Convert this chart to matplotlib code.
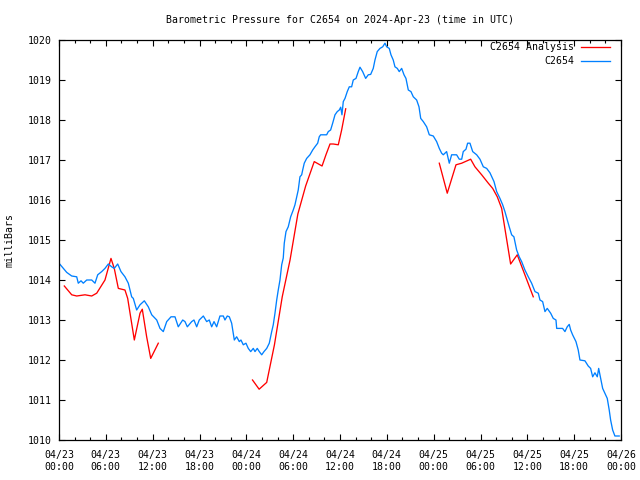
import matplotlib
matplotlib.use("Agg")
import matplotlib.pyplot as plt
from matplotlib.ticker import MultipleLocator

# ---- data (hours since 2024-04-23 00:00 UTC, pressure in millibars) ----
obs_hours = [0.00, 0.55, 0.99, 1.63, 2.27, 2.47, 2.82, 3.11, 3.55, 4.19, 4.61, 4.96,
             5.47, 5.89, 6.32, 6.75, 7.08, 7.52, 7.94, 8.45, 8.88, 9.31, 9.52, 9.95,
             10.38, 10.93, 11.44, 11.88, 12.52, 12.94, 13.36, 13.80, 14.35, 14.86,
             15.28, 15.85, 16.14, 16.44, 17.00, 17.29, 17.64, 17.97, 18.49, 18.92,
             19.25, 19.56, 19.86, 20.20, 20.62, 21.05, 21.26, 21.56, 21.82, 22.12,
             22.46, 22.76, 23.10, 23.31, 23.61, 23.95, 24.25, 24.56, 24.89, 25.11,
             25.40, 25.66, 25.97, 26.26, 26.61, 26.94, 27.25, 27.45, 27.67, 27.89,
             28.09, 28.31, 28.53, 28.73, 28.86, 29.08, 29.37, 29.68, 30.01, 30.23,
             30.45, 30.65, 30.87, 31.09, 31.22, 31.42, 31.73, 32.15, 32.50, 32.79,
             33.14, 33.34, 33.52, 34.29, 34.50, 34.80, 35.06, 35.36, 35.65, 35.91,
             36.09, 36.25, 36.42, 36.64, 36.93, 37.19, 37.49, 37.70, 38.05, 38.34,
             38.56, 38.90, 39.29, 39.62, 39.93, 40.26, 40.48, 40.77, 41.12, 41.47,
             41.76, 41.98, 42.31, 42.53, 42.82, 43.04, 43.34, 43.59, 43.90, 44.20,
             44.45, 44.75, 45.09, 45.39, 45.82, 46.12, 46.34, 46.67, 47.10, 47.44,
             47.95, 48.38, 48.72, 49.02, 49.23, 49.66, 50.00, 50.30, 50.94, 51.28,
             51.59, 51.79, 52.14, 52.35, 52.65, 53.00, 53.51, 53.93, 54.36, 54.79,
             55.21, 55.73, 56.07, 56.49, 56.84, 57.13, 57.43, 57.68, 57.99, 58.28,
             58.63, 58.96, 59.27, 59.69, 60.12, 60.55, 60.98, 61.40, 61.62, 61.96,
             62.26, 62.55, 62.99, 63.32, 63.67, 63.76, 64.52, 64.82, 65.11, 65.37,
             65.55, 65.80, 66.23, 66.52, 66.74, 67.38, 67.80, 68.11, 68.37, 68.66,
             68.96, 69.14, 69.39, 69.65, 69.94, 70.24, 70.49, 70.67, 70.93, 71.22,
             71.77]
obs_mb = [1014.42, 1014.29, 1014.19, 1014.10, 1014.08, 1013.92, 1013.98, 1013.92, 1014.00,
          1014.00, 1013.92, 1014.13, 1014.21, 1014.29, 1014.40, 1014.33, 1014.29, 1014.40,
          1014.21, 1014.08, 1013.92, 1013.58, 1013.54, 1013.25, 1013.38, 1013.48, 1013.33,
          1013.13, 1013.00, 1012.79, 1012.71, 1012.96, 1013.08, 1013.08,
          1012.83, 1013.00, 1012.96, 1012.83, 1012.96, 1013.00, 1012.83, 1013.00, 1013.10,
          1012.96, 1013.00, 1012.83, 1012.96, 1012.83, 1013.10, 1013.10, 1013.00, 1013.10,
          1013.08, 1012.92, 1012.50, 1012.58, 1012.46, 1012.50, 1012.38, 1012.42, 1012.29,
          1012.21, 1012.29, 1012.21, 1012.29, 1012.21, 1012.13, 1012.21, 1012.29, 1012.42,
          1012.71, 1012.88, 1013.17, 1013.50, 1013.75, 1014.00, 1014.38, 1014.55, 1014.92,
          1015.21, 1015.33, 1015.58, 1015.75, 1015.88, 1016.08, 1016.25, 1016.58, 1016.63,
          1016.75, 1016.92, 1017.04, 1017.13, 1017.25, 1017.33, 1017.42, 1017.58, 1017.63,
          1017.63, 1017.71, 1017.75, 1017.92, 1018.13, 1018.21, 1018.25, 1018.32, 1018.13,
          1018.46, 1018.54, 1018.71, 1018.83, 1018.83, 1019.00, 1019.04, 1019.21, 1019.32,
          1019.21, 1019.04, 1019.13, 1019.14, 1019.29, 1019.50, 1019.71, 1019.79, 1019.83,
          1019.92, 1019.83, 1019.79, 1019.63, 1019.50, 1019.33, 1019.29, 1019.21, 1019.29,
          1019.13, 1019.04, 1018.75, 1018.71, 1018.58, 1018.50, 1018.33, 1018.04, 1017.96,
          1017.83, 1017.63, 1017.60, 1017.46, 1017.29, 1017.17, 1017.13, 1017.21, 1016.92,
          1017.13, 1017.13, 1017.02, 1017.02, 1017.21, 1017.27, 1017.42, 1017.42, 1017.21,
          1017.13, 1017.02, 1016.83, 1016.79, 1016.68, 1016.46, 1016.21, 1016.04, 1015.88,
          1015.71, 1015.50, 1015.33, 1015.13, 1015.08, 1014.75, 1014.58, 1014.46, 1014.25,
          1014.08, 1013.92, 1013.71, 1013.67, 1013.50, 1013.46, 1013.21, 1013.29, 1013.17,
          1013.04, 1013.00, 1012.79, 1012.79, 1012.71, 1012.83, 1012.89, 1012.75, 1012.63,
          1012.46, 1012.25, 1012.00, 1011.98, 1011.85, 1011.79, 1011.58, 1011.68, 1011.58,
          1011.79, 1011.54, 1011.29, 1011.17, 1011.04, 1010.75, 1010.50, 1010.25, 1010.10,
          1010.10]

ana1_hours = [0.68, 1.63, 2.27, 3.33, 4.19, 4.83, 5.89, 6.66, 7.08, 7.60, 8.45, 8.80,
              9.65, 10.38, 10.67, 11.23, 11.75, 12.72]
ana1_mb = [1013.85, 1013.63, 1013.60, 1013.63, 1013.60, 1013.67, 1014.00, 1014.54, 1014.29,
           1013.79, 1013.75, 1013.54, 1012.50, 1013.17, 1013.27, 1012.58, 1012.04, 1012.42]

ana2_hours = [24.79, 25.64, 26.61, 27.60, 28.60, 29.60, 30.60, 31.60, 32.70, 33.70,
              34.20, 34.72, 35.14, 35.78, 36.21, 36.73]
ana2_mb = [1011.50, 1011.27, 1011.44, 1012.38, 1013.58, 1014.50, 1015.65, 1016.35,
           1016.96, 1016.85, 1017.13, 1017.40, 1017.40, 1017.38, 1017.75, 1018.28]

ana3_hours = [48.72, 49.74, 50.86, 51.59, 52.74, 53.29, 54.15, 55.00, 55.56, 56.15,
              56.71, 57.86, 58.71, 60.76]
ana3_mb = [1016.92, 1016.17, 1016.88, 1016.92, 1017.02, 1016.83, 1016.63, 1016.42,
           1016.29, 1016.08, 1015.79, 1014.40, 1014.63, 1013.58]

x_tick_hours = [0, 6, 12, 18, 24, 30, 36, 42, 48, 54, 60, 66, 72]
x_tick_labels = ["04/23\n00:00", "04/23\n06:00", "04/23\n12:00", "04/23\n18:00",
                 "04/24\n00:00", "04/24\n06:00", "04/24\n12:00", "04/24\n18:00",
                 "04/25\n00:00", "04/25\n06:00", "04/25\n12:00", "04/25\n18:00",
                 "04/26\n00:00"]
y_ticks = [1010, 1011, 1012, 1013, 1014, 1015, 1016, 1017, 1018, 1019, 1020]

# ---- figure ----
plt.rcParams['font.family'] = ['DejaVu Sans Mono']
FS = 7.1

fig = plt.figure(figsize=(6.4, 4.8), dpi=100)
ax = fig.add_axes([59 / 640, 40 / 480, 562 / 640, 400 / 480])

red = '#ff0000'
blue = '#0080ff'
lw = 0.95

ax.plot(ana1_hours, ana1_mb, color=red, lw=lw, label='C2654 Analysis')
ax.plot(ana2_hours, ana2_mb, color=red, lw=lw)
ax.plot(ana3_hours, ana3_mb, color=red, lw=lw)
ax.plot(obs_hours, obs_mb, color=blue, lw=lw, label='C2654')

ax.set_xlim(0, 72)
ax.set_ylim(1010, 1020)
ax.set_xticks(x_tick_hours)
ax.set_xticklabels(x_tick_labels, fontsize=FS, linespacing=1.25)
ax.xaxis.set_minor_locator(MultipleLocator(2))
ax.set_yticks(y_ticks)
ax.set_yticklabels([str(v) for v in y_ticks], fontsize=FS)

ax.tick_params(axis='both', which='both', direction='in', top=True, right=True,
               width=0.8, color='black')
ax.tick_params(axis='both', which='major', length=4.5)
ax.tick_params(axis='both', which='minor', length=2.5)
ax.tick_params(axis='x', which='major', pad=7.5)
ax.tick_params(axis='y', which='major', pad=5)

for sp in ax.spines.values():
    sp.set_linewidth(0.9)
    sp.set_color('black')

fig.text(340 / 640, 1 - 20 / 480, 'Barometric Pressure for C2654 on 2024-Apr-23 (time in UTC)',
         ha='center', va='center', fontsize=FS)
fig.text(10 / 640, 1 - 240 / 480, 'milliBars', rotation=90, ha='center', va='center',
         fontsize=FS)

leg = ax.legend(loc='upper right', bbox_to_anchor=(610 / 640, 1 - 42 / 480),
                bbox_transform=fig.transFigure, frameon=False, fontsize=FS,
                markerfirst=False, handlelength=2.9, handletextpad=0.7,
                labelspacing=0.45, borderpad=0, borderaxespad=0)

fig.savefig('out.png', dpi=100)
